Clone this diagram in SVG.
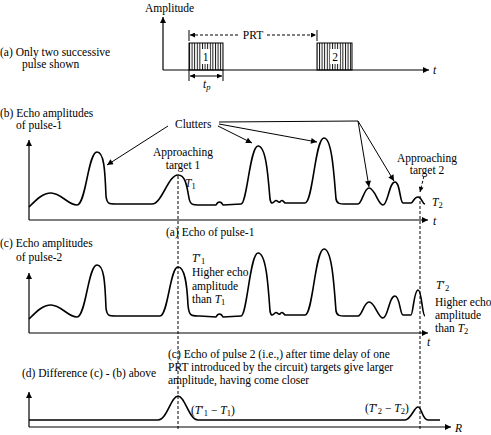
<svg xmlns="http://www.w3.org/2000/svg" width="491" height="435" viewBox="0 0 491 435">
<style>
text{font-family:"Liberation Serif","Times New Roman",serif;font-size:11.5px;fill:#000}
.i{font-style:italic}
.ln{stroke:#000;stroke-width:1;fill:none}
.ax{stroke:#000;stroke-width:1.2;fill:none}
.cv{stroke:#000;stroke-width:1.6;fill:none;stroke-linejoin:round}
.dash{stroke:#000;stroke-width:1;stroke-dasharray:3,2;fill:none}
.hatch{stroke:#000;stroke-width:0.9}
</style>
<defs>
<marker id="ah" viewBox="0 0 10 10" refX="10" refY="5" markerWidth="8" markerHeight="6" markerUnits="userSpaceOnUse" orient="auto">
<path d="M0,0 L10,5 L0,10 z" fill="#000"/>
</marker>
<marker id="ahs" viewBox="0 0 10 10" refX="10" refY="5" markerWidth="7" markerHeight="5" markerUnits="userSpaceOnUse" orient="auto-start-reverse">
<path d="M0,0 L10,5 L0,10 z" fill="#000"/>
</marker>
<pattern id="hp" x="189" y="0" width="2.6" height="10" patternUnits="userSpaceOnUse">
<line x1="0.5" y1="0" x2="0.5" y2="10" class="hatch"/>
</pattern>
</defs>

<g id="panel-a">
<text x="145" y="12">Amplitude</text>
<text x="0" y="56">(a) Only two successive</text>
<text x="22" y="68">pulse shown</text>
<line class="ax" x1="163" y1="70" x2="163" y2="17" marker-end="url(#ah)"/>
<line class="ax" x1="163" y1="70" x2="429" y2="70" marker-end="url(#ah)"/>
<text class="i" x="433" y="74">t</text>
<g id="pulse1">
<rect x="189" y="43" width="34" height="27" fill="url(#hp)" stroke="#000" stroke-width="1"/>
<rect x="201" y="49" width="9" height="15" fill="#fff"/>
<text x="205.5" y="61" text-anchor="middle">1</text>
</g>
<g id="pulse2">
<rect x="317" y="43" width="35" height="27" fill="url(#hp)" stroke="#000" stroke-width="1"/>
<rect x="330" y="49" width="10" height="15" fill="#fff"/>
<text x="335" y="61" text-anchor="middle">2</text>
</g>
<g id="prt">
<line class="ln" x1="189" y1="30" x2="189" y2="41"/>
<line class="ln" x1="317" y1="30" x2="317" y2="41"/>
<line class="dash" x1="190" y1="35" x2="238" y2="35" marker-start="url(#ahs)"/>
<line class="dash" x1="267" y1="35" x2="316" y2="35" marker-end="url(#ahs)"/>
<text x="253" y="39" text-anchor="middle">PRT</text>
</g>
<g id="tp">
<line class="ln" x1="189" y1="70" x2="189" y2="81"/>
<line class="ln" x1="223" y1="70" x2="223" y2="81"/>
<line class="ln" x1="190" y1="76" x2="222" y2="76" marker-start="url(#ahs)" marker-end="url(#ahs)"/>
<text class="i" x="203" y="88">t<tspan font-size="8.5" dy="2">p</tspan></text>
</g>
</g>

<g id="panel-b">
<text x="0" y="117">(b) Echo amplitudes</text>
<text x="16" y="129">of pulse-1</text>
<line class="ax" x1="29" y1="220" x2="29" y2="140" marker-end="url(#ah)"/>
<line class="ax" x1="29" y1="220" x2="428" y2="220" marker-end="url(#ah)"/>
<text class="i" x="433" y="225">t</text>
<path class="cv" d="M29,207 C37,199 43,193 51,193 C61,193 68,205 77,205 C86,205 88,152 97,152 C104,152 105,170 106,196 C107,205 110,204 118,204 L152,204 C162,204 168,175 178,175 C186,175 187,188 189,198 C190,205 193,205 200,205 L216,205 C218,201 221,201 223,205 L241,204 C247,204 250,146 258,146 C266,146 268,175 270,199 C271,205 273,203 275,201 C277,199 278,203 280,202 C282,199 283,201 285,203 L305,203 C313,203 315,138 324,138 C332,138 334,175 336,199 C337,204 340,204 346,204 L358,204 C362,204 364,188 369,188 C375,188 378,205 383,205 C388,205 389,182 395,182 C400,182 400,203 403,203 L411,203 C413,203 414,197 418,197 C422,197 422,204 425,204"/>
<text x="175" y="128">Clutters</text>
<g id="clutter-arrows">
<line class="ln" x1="168" y1="126" x2="107" y2="165" marker-end="url(#ah)"/>
<polyline class="ln" points="219,122 358,121"/>
<line class="ln" x1="358" y1="121" x2="369" y2="187" marker-end="url(#ah)"/>
<line class="ln" x1="358" y1="121" x2="394" y2="181" marker-end="url(#ah)"/>
<line class="ln" x1="219" y1="124" x2="317" y2="142" marker-end="url(#ah)"/>
<line class="ln" x1="218" y1="126" x2="252" y2="143" marker-end="url(#ah)"/>
</g>
<text x="183" y="156" text-anchor="middle">Approaching</text>
<text x="183" y="169" text-anchor="middle">target 1</text>
<text x="185" y="187"><tspan class="i">T</tspan><tspan font-size="8.5" dy="2">1</tspan></text>
<text x="427" y="162" text-anchor="middle">Approaching</text>
<text x="427" y="174" text-anchor="middle">target 2</text>
<line class="dash" x1="424" y1="176" x2="420" y2="192" marker-end="url(#ahs)"/>
<text x="432" y="206"><tspan class="i">T</tspan><tspan font-size="8.5" dy="2">2</tspan></text>
</g>

<g id="panel-c">
<text x="166" y="236">(a) Echo of pulse-1</text>
<text x="0" y="247">(c) Echo amplitudes</text>
<text x="16" y="261">of pulse-2</text>
<line class="ax" x1="29" y1="333" x2="29" y2="273" marker-end="url(#ah)"/>
<line class="ax" x1="29" y1="333" x2="428" y2="333" marker-end="url(#ah)"/>
<text class="i" x="427" y="346">t</text>
<path class="cv" d="M29,319 C37,311 43,305 51,305 C61,305 68,317 77,317 C86,317 88,265 97,265 C104,265 105,282 106,308 C107,317 110,316 118,316 L160,316 C168,316 170,267 178,267 C185,267 187,285 188,305 C189,317 192,316 200,316 L216,317 C218,313 221,313 223,317 L241,316 C247,316 250,253 258,253 C266,253 268,283 270,311 C271,317 273,315 275,313 C277,311 278,315 280,314 C282,311 283,313 285,315 L305,315 C313,315 315,249 324,249 C332,249 334,285 336,311 C337,316 340,316 346,316 L358,316 C362,316 364,302 369,302 C375,302 378,318 383,318 C388,318 389,296 395,296 C400,296 400,315 403,315 L411,315 C413,315 414,290 418,290 C422,290 422,316 425,316"/>
<text x="192" y="262"><tspan class="i">T</tspan>′<tspan font-size="8.5" dy="2">1</tspan></text>
<text x="192" y="276">Higher echo</text>
<text x="192" y="290">amplitude</text>
<text x="192" y="303">than <tspan class="i">T</tspan><tspan font-size="8.5" dy="2">1</tspan></text>
<text x="436" y="289"><tspan class="i">T</tspan>′<tspan font-size="8.5" dy="2">2</tspan></text>
<text x="435" y="306">Higher echo</text>
<text x="435" y="319">amplitude</text>
<text x="435" y="332">than <tspan class="i">T</tspan><tspan font-size="8.5" dy="2">2</tspan></text>
</g>

<g id="panel-d">
<text x="168" y="358">(c) Echo of pulse 2 (i.e.,) after time delay of one</text>
<text x="168" y="371">PRT introduced by the circuit) targets give larger</text>
<text x="168" y="384">amplitude, having come closer</text>
<text x="22" y="377">(d) Difference (c) - (b) above</text>
<line class="ax" x1="29" y1="427" x2="29" y2="392" marker-end="url(#ah)"/>
<line class="ax" x1="29" y1="427" x2="451" y2="427" marker-end="url(#ah)"/>
<text class="i" x="455" y="432">R</text>
<path class="cv" d="M29,420 L158,420 C167,420 171,396 178,396 C185,396 189,420 198,420 L405,420 C411,420 414,407 418,407 C422,407 422,420 428,420 L440,420"/>
<text x="191" y="414">(<tspan class="i">T</tspan>′<tspan font-size="8.5" dy="2">1</tspan><tspan dy="-2"> − </tspan><tspan class="i">T</tspan><tspan font-size="8.5" dy="2">1</tspan><tspan dy="-2">)</tspan></text>
<text x="365" y="412">(<tspan class="i">T</tspan>′<tspan font-size="8.5" dy="2">2</tspan><tspan dy="-2"> − </tspan><tspan class="i">T</tspan><tspan font-size="8.5" dy="2">2</tspan><tspan dy="-2">)</tspan></text>
</g>

<g id="connectors">
<line class="dash" x1="178" y1="176" x2="178" y2="429"/>
<line class="dash" x1="420" y1="196" x2="420" y2="431"/>
</g>
</svg>
